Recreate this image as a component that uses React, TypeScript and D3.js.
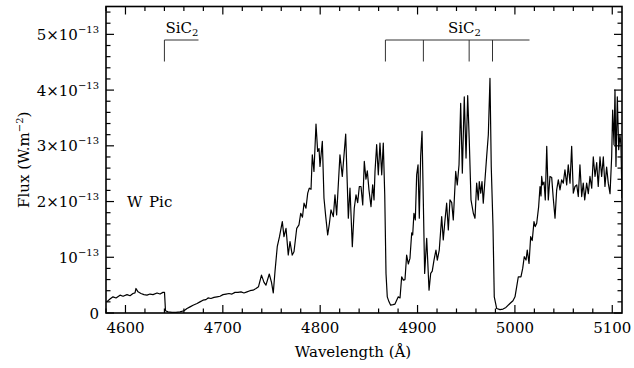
import React from "react";
import * as d3 from "d3";

// Spectrum of W Pic: wavelength (Å) and flux in units of 1e-13 W.m^-2
const wavelength: number[] = [
  4580.7, 4584.1, 4587.2, 4590.3, 4594.4, 4597.5, 4601.6, 4604.7, 4607.7, 4609.8,
  4610.8, 4612.9, 4615.9, 4619.0, 4622.1, 4625.2, 4628.3, 4632.4, 4635.5, 4638.5,
  4640.1, 4641.1, 4643.7, 4647.8, 4651.9, 4656.0, 4660.1, 4663.2, 4666.3, 4669.4,
  4673.5, 4676.5, 4679.6, 4682.7, 4684.8, 4687.8, 4690.9, 4694.0, 4697.1, 4700.2,
  4703.3, 4706.3, 4709.4, 4712.5, 4715.6, 4718.7, 4721.7, 4724.8, 4727.9, 4731.0,
  4734.1, 4736.6, 4739.7, 4742.3, 4744.3, 4747.7, 4750.0, 4751.8, 4753.6, 4755.9,
  4758.2, 4761.1, 4762.8, 4764.9, 4767.2, 4769.0, 4771.3, 4773.1, 4775.9, 4778.2,
  4780.0, 4781.8, 4783.4, 4785.4, 4787.2, 4788.8, 4790.6, 4791.9, 4793.6, 4795.7,
  4797.4, 4798.8, 4799.8, 4802.2, 4803.9, 4805.7, 4807.7, 4809.4, 4811.1, 4813.5,
  4815.2, 4816.9, 4820.3, 4822.7, 4826.2, 4827.8, 4828.9, 4830.6, 4833.0, 4835.0,
  4836.8, 4838.5, 4840.2, 4841.9, 4843.7, 4845.3, 4847.0, 4848.4, 4850.1, 4852.2,
  4853.9, 4855.3, 4856.3, 4858.0, 4859.7, 4861.4, 4863.2, 4864.8, 4866.3, 4867.6,
  4868.9, 4870.7, 4872.4, 4874.8, 4876.8, 4880.2, 4882.0, 4883.7, 4885.4, 4887.1,
  4888.8, 4890.5, 4892.2, 4894.0, 4895.0, 4896.3, 4897.7, 4899.1, 4900.5, 4901.8,
  4903.2, 4904.6, 4905.9, 4907.3, 4909.4, 4911.8, 4913.5, 4915.1, 4916.9, 4918.9,
  4920.3, 4922.3, 4924.8, 4926.4, 4928.2, 4929.9, 4931.6, 4933.3, 4935.1, 4936.7,
  4939.2, 4940.8, 4942.6, 4944.3, 4946.0, 4948.0, 4949.8, 4951.5, 4953.1, 4954.9,
  4957.3, 4959.0, 4960.7, 4962.4, 4963.4, 4964.9, 4966.2, 4967.5, 4969.3, 4971.0,
  4972.7, 4974.4, 4975.7, 4977.5, 4978.8, 4981.3, 4984.7, 4987.8, 4990.8, 4994.9,
  4998.0, 5000.1, 5001.8, 5003.5, 5006.2, 5008.0, 5009.6, 5011.4, 5012.7, 5014.5,
  5016.2, 5017.8, 5019.6, 5020.9, 5022.4, 5024.4, 5025.8, 5026.8, 5027.5, 5028.5,
  5029.9, 5031.2, 5032.7, 5034.3, 5036.0, 5037.8, 5039.4, 5041.2, 5042.9, 5044.6,
  5046.3, 5048.0, 5049.7, 5051.4, 5053.2, 5054.8, 5056.6, 5058.3, 5060.0, 5061.7,
  5063.5, 5065.1, 5066.8, 5068.6, 5070.2, 5071.7, 5073.7, 5075.4, 5077.1, 5078.9,
  5080.5, 5082.3, 5084.0, 5085.6, 5087.4, 5089.1, 5090.8, 5092.5, 5094.2, 5095.9,
  5097.7, 5099.4, 5100.4, 5101.8, 5102.8, 5103.8, 5105.2, 5106.6, 5107.9, 5108.9,
  5110.0,
];

const fluxE13: number[] = [
  0.20, 0.25, 0.29, 0.27, 0.32, 0.30, 0.33, 0.31, 0.35, 0.36,
  0.44, 0.38, 0.35, 0.33, 0.32, 0.34, 0.33, 0.36, 0.34, 0.37,
  0.37, 0.04, 0.02, 0.01, 0.01, 0.02, 0.04, 0.08, 0.11, 0.14,
  0.17, 0.20, 0.23, 0.24, 0.27, 0.26, 0.28, 0.29, 0.30, 0.33,
  0.34, 0.35, 0.34, 0.37, 0.37, 0.38, 0.36, 0.38, 0.40, 0.41,
  0.44, 0.47, 0.68, 0.55, 0.50, 0.70, 0.55, 0.36, 0.75, 1.19,
  1.37, 1.64, 1.37, 1.52, 1.04, 1.28, 1.04, 1.10, 1.52, 1.58,
  1.79, 1.72, 1.97, 1.88, 2.15, 2.24, 2.22, 2.84, 2.54, 3.39,
  2.90, 2.95, 2.63, 3.08, 2.06, 1.73, 1.40, 1.60, 1.85, 1.73,
  2.12, 1.76, 2.84, 2.45, 3.21, 2.33, 1.70, 2.24, 1.19, 1.88,
  2.12, 1.98, 2.27, 2.27, 1.94, 2.72, 2.40, 2.55, 2.21, 1.91,
  2.30, 2.03, 2.54, 3.02, 2.48, 3.05, 2.48, 3.05, 2.12, 0.71,
  0.29, 0.20, 0.14, 0.15, 0.16, 0.29, 0.27, 0.65, 0.59, 0.60,
  1.04, 0.88, 0.98, 1.44, 1.40, 1.79, 1.67, 2.48, 2.66, 1.70,
  2.81, 3.26, 2.03, 0.71, 1.34, 0.41, 0.71, 0.75, 0.95, 1.13,
  0.95, 1.13, 1.73, 1.31, 1.67, 1.97, 1.49, 2.03, 1.98, 1.67,
  2.54, 2.30, 2.66, 3.76, 2.51, 3.88, 2.78, 3.90, 3.11, 2.03,
  1.79, 1.70, 2.33, 2.03, 2.36, 2.15, 2.36, 1.97, 2.40, 2.81,
  3.20, 4.21, 2.63, 1.55, 0.29, 0.08, 0.06, 0.07, 0.10, 0.17,
  0.22, 0.29, 0.47, 0.65, 0.65, 0.80, 1.01, 0.95, 1.13, 0.89,
  1.37, 1.30, 1.64, 1.55, 1.61, 1.91, 2.27, 2.10, 2.45, 2.30,
  2.35, 2.03, 2.99, 2.03, 2.45, 2.43, 2.06, 1.70, 2.21, 2.39,
  2.21, 2.39, 2.33, 2.57, 2.30, 2.66, 2.33, 2.99, 2.15, 2.27,
  2.30, 2.09, 2.66, 2.09, 2.33, 2.03, 2.33, 2.14, 2.45, 2.24,
  2.80, 2.45, 2.70, 2.27, 2.80, 2.45, 2.80, 2.27, 2.62, 2.33,
  2.14, 2.81, 3.64, 3.02, 4.00, 2.63, 3.88, 2.93, 3.20, 3.02,
  2.06,
];

// SiC2 band heads (Å) and the extent of each bracket
const sic2Single: number[] = [4640];
const sic2SingleEnd = 4675;
const sic2Group: number[] = [4867, 4906, 4953, 4977];
const sic2GroupEnd = 5015;

const xMajorTicks: number[] = [4600, 4700, 4800, 4900, 5000, 5100];
const yMajorTicks: number[] = [0, 1, 2, 3, 4, 5];

const W = 634;
const H = 368;
const left = 106;
const right = 622;
const top = 6.5;
const bottom = 313;

const FONT = "'DejaVu Serif', serif";

export default function App() {
  const x = d3.scaleLinear().domain([4580, 5110]).range([left, right]);
  const y = d3.scaleLinear().domain([0, 5.5]).range([bottom, top]);

  const pts = wavelength.map((w, i) => [w, fluxE13[i]] as [number, number]);
  const path = d3
    .line<[number, number]>()
    .x((d) => x(d[0]))
    .y((d) => y(d[1]))(pts) as string;

  const xMinor = d3.range(4580, 5111, 20).filter((v) => v % 100 !== 0);
  const yMinor = d3.range(0, 5.5001, 0.2).filter((v) => Math.abs(v - Math.round(v)) > 1e-6);

  const majorLen = 8;
  const minorLen = 4.5;
  const tickStroke = "#000";

  const yLabel = (v: number) => {
    if (v === 0) return <tspan>0</tspan>;
    return (
      <>
        <tspan>{v === 1 ? "10" : `${v}×10`}</tspan>
        <tspan dy={-7} fontSize={10}>−13</tspan>
      </>
    );
  };

  const bracketTop = 40;
  const bracketBottom = 61.5;

  return (
    <svg
      width={W}
      height={H}
      style={{ position: "absolute", left: 0, top: 0, background: "#fff" }}
      fontFamily={FONT}
    >
      <rect x={0} y={0} width={W} height={H} fill="#fff" />
      {/* spectrum */}
      <defs>
        <clipPath id="plotArea">
          <rect x={left} y={top} width={right - left} height={bottom - top} />
        </clipPath>
      </defs>
      <path d={path} fill="none" stroke="#000" strokeWidth={1.2} strokeLinejoin="round" clipPath="url(#plotArea)" />

      {/* frame */}
      <rect x={left} y={top} width={right - left} height={bottom - top} fill="none" stroke="#000" strokeWidth={1.6} />

      {/* x ticks, bottom and top */}
      {xMajorTicks.map((v) => (
        <g key={`xM${v}`}>
          <line x1={x(v)} x2={x(v)} y1={bottom} y2={bottom - majorLen} stroke={tickStroke} strokeWidth={1.2} />
          <line x1={x(v)} x2={x(v)} y1={top} y2={top + majorLen} stroke={tickStroke} strokeWidth={1.2} />
          <text x={x(v)} y={333} textAnchor="middle" fontSize={15}>{v}</text>
        </g>
      ))}
      {xMinor.map((v) => (
        <g key={`xm${v}`}>
          <line x1={x(v)} x2={x(v)} y1={bottom} y2={bottom - minorLen} stroke={tickStroke} strokeWidth={1.2} />
          <line x1={x(v)} x2={x(v)} y1={top} y2={top + minorLen} stroke={tickStroke} strokeWidth={1.2} />
        </g>
      ))}

      {/* y ticks, left and right */}
      {yMajorTicks.map((v) => (
        <g key={`yM${v}`}>
          <line x1={left} x2={left + majorLen} y1={y(v)} y2={y(v)} stroke={tickStroke} strokeWidth={1.2} />
          <line x1={right} x2={right - majorLen} y1={y(v)} y2={y(v)} stroke={tickStroke} strokeWidth={1.2} />
          <text x={99} y={y(v) + 5.5} textAnchor="end" fontSize={15}>{yLabel(v)}</text>
        </g>
      ))}
      {yMinor.map((v) => (
        <g key={`ym${v.toFixed(1)}`}>
          <line x1={left} x2={left + minorLen} y1={y(v)} y2={y(v)} stroke={tickStroke} strokeWidth={1.2} />
          <line x1={right} x2={right - minorLen} y1={y(v)} y2={y(v)} stroke={tickStroke} strokeWidth={1.2} />
        </g>
      ))}

      {/* axis titles */}
      <text x={353} y={357} textAnchor="middle" fontSize={15}>Wavelength (Å)</text>
      <text transform={`translate(29, ${(top + bottom) / 2}) rotate(-90)`} textAnchor="middle" fontSize={15}>
        <tspan>Flux (W.m</tspan>
        <tspan dy={-6} fontSize={10}>−2</tspan>
        <tspan dy={6}>)</tspan>
      </text>

      {/* object name */}
      <text x={127} y={207} fontSize={15}>W</text>
      <text x={149} y={207} fontSize={15}>Pic</text>

      {/* SiC2 band-head brackets */}
      <g stroke="#333" strokeWidth={1} fill="none">
        <line x1={x(sic2Single[0])} x2={x(sic2SingleEnd)} y1={bracketTop} y2={bracketTop} />
        {sic2Single.map((v) => (
          <line key={`s${v}`} x1={x(v)} x2={x(v)} y1={bracketTop} y2={bracketBottom} />
        ))}
        <line x1={x(sic2Group[0])} x2={x(sic2GroupEnd)} y1={bracketTop} y2={bracketTop} />
        {sic2Group.map((v) => (
          <line key={`g${v}`} x1={x(v)} x2={x(v)} y1={bracketTop} y2={bracketBottom} />
        ))}
      </g>
      <text x={x(sic2Single[0]) + 1} y={33} fontSize={15}>
        <tspan>SiC</tspan>
        <tspan dy={3} fontSize={10}>2</tspan>
      </text>
      <text x={448} y={33} fontSize={15}>
        <tspan>SiC</tspan>
        <tspan dy={3} fontSize={10}>2</tspan>
      </text>
    </svg>
  );
}
